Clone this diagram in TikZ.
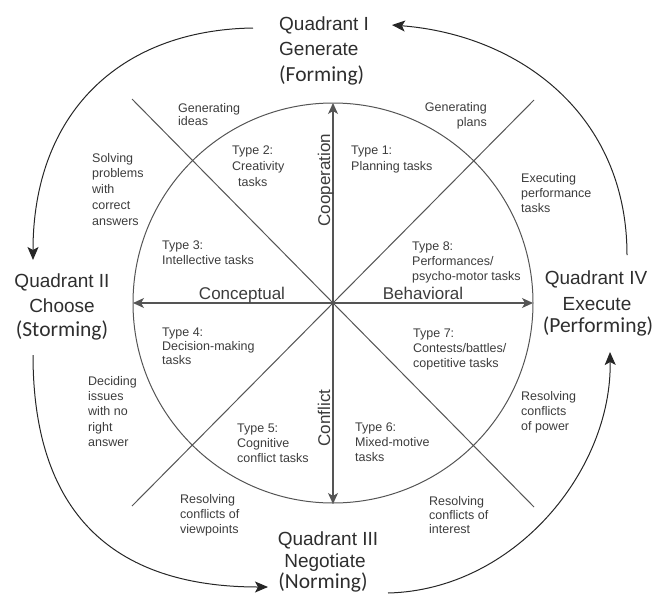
\documentclass[tikz,border=0pt]{standalone}
\usepackage{fontspec}
\setmainfont{Liberation Sans}
\newfontfamily\calib{Carlito}
\usetikzlibrary{arrows.meta}
\definecolor{linegray}{HTML}{555555}
\definecolor{txtgray}{HTML}{3C3C3C}
\definecolor{qgray}{HTML}{2E2E2E}
\begin{document}
\begin{tikzpicture}[x=1pt,y=-1pt,
  lsp/.style={font=\fontsize{12.5}{#1}\selectfont},
  small/.style={lsp=15, text=txtgray, inner sep=0pt, align=left, anchor=north west},
  quad/.style={font=\fontsize{19}{22}\selectfont, text=qgray, inner sep=0pt, anchor=base},
  quadp/.style={font=\calib\fontsize{21.5}{24}\selectfont, text=qgray, inner sep=0pt, anchor=base},
  axlabel/.style={font=\fontsize{17}{20}\selectfont, text=txtgray, inner sep=0pt, anchor=base},
  axis/.style={draw=linegray, line width=1.1pt, -{Stealth[length=11pt,width=10pt,inset=3pt]}},
  cyc/.style={draw=black!85, line width=1pt, -{Stealth[length=13pt,width=11pt,inset=3pt]}},
  thinline/.style={draw=linegray, line width=1pt}]
\useasboundingbox (0,0) rectangle (667,600);
% centre and geometry
\coordinate (O) at (333,303);
\coordinate (T) at (333,103);
\coordinate (B) at (333,504);
\coordinate (L) at (133,303);
\coordinate (R) at (533,303);
\coordinate (d1) at (132,99);
\coordinate (d2) at (534,507);
\coordinate (d3) at (534,100);
\coordinate (d4) at (132,506);
\draw[thinline] (O) circle[radius=200pt];
\draw[thinline] (d1) -- (d2);
\draw[thinline] (d3) -- (d4);
\draw[axis] (O) -- (T);
\draw[axis] (O) -- (B);
\draw[axis] (O) -- (L);
\draw[axis] (O) -- (R);
% outer cycle arcs
\coordinate (a1s) at (253,28);
\coordinate (a1e) at (33,260);
\coordinate (a2s) at (33,355);
\coordinate (a2e) at (268,587);
\coordinate (a3s) at (388,593);
\coordinate (a3e) at (610,352);
\coordinate (a4s) at (627,255);
\coordinate (a4e) at (392,25);
\draw[cyc] (a1s) .. controls (118,30) and (33,115) .. (a1e);
\draw[cyc] (a2s) .. controls (33,510) and (110,587) .. (a2e);
\draw[cyc] (a3s) .. controls (515,590) and (612,470) .. (a3e);
\draw[cyc] (a4s) .. controls (627,115) and (520,35) .. (a4e);
% quadrant labels
\node[quad, anchor=base west] (q1a) at (279,30) {Quadrant I};
\node[quad, anchor=base west] (q1b) at (279,55) {Generate};
\node[quadp, anchor=base west] (q1c) at (279,81) {(Forming)};
\node[quad] (q2a) at (62,287) {Quadrant II};
\node[quad] (q2b) at (62,312) {Choose};
\node[quadp] (q2c) at (62,336) {(Storming)};
\node[quad] (q3a) at (328,545) {Quadrant III};
\node[quad] (q3b) at (325,567) {Negotiate};
\node[quadp] (q3c) at (323,588) {(Norming)};
\node[quad] (q4a) at (596,284) {Quadrant IV};
\node[quad] (q4b) at (597,310) {Execute};
\node[quadp] (q4c) at (598,332) {(Performing)};
% axis labels
\node[axlabel, rotate=90] (coop) at (330,180) {Cooperation};
\node[axlabel, rotate=90] (confl) at (330,418) {Conflict};
\node[axlabel] (concept) at (242,299) {Conceptual};
\node[axlabel] (behav) at (423,299) {Behavioral};
% sector texts
\node[small, lsp=13.5] (genideas) at (178,103) {Generating\\ideas};
\node[small, lsp=15.7] (solving) at (92,153) {Solving\\problems\\with\\correct\\answers};
\node[small, lsp=16] (type2) at (232,146) {Type 2:\\Creativity\\\hspace*{6pt}tasks};
\node[small] (type3) at (162,241) {Type 3:\\Intellective tasks};
\node[small, align=right, anchor=north east] (genplans) at (487,102) {Generating\\plans};
\node[small, lsp=16] (type1) at (351,146) {Type 1:\\Planning tasks};
\node[small] (exec) at (521,173) {Executing\\performance\\tasks};
\node[small] (type8) at (412,242) {Type 8:\\Performances/\\psycho-motor tasks};
\node[small, lsp=14] (type4) at (162,328) {Type 4:\\Decision-making\\tasks};
\node[small, lsp=15.3] (deciding) at (88,376) {Deciding\\issues\\with no\\right\\answer};
\node[small] (type5) at (237,424) {Type 5:\\Cognitive\\conflict tasks};
\node[small] (type7) at (413,329) {Type 7:\\Contests/battles/\\copetitive tasks};
\node[small] (power) at (521,391) {Resolving\\conflicts\\of power};
\node[small] (type6) at (355,423) {Type 6:\\Mixed-motive\\tasks};
\node[small] (viewp) at (180,494) {Resolving\\conflicts of\\viewpoints};
\node[small, lsp=14] (interest) at (429,496) {Resolving\\conflicts of\\interest};
\end{tikzpicture}
\end{document}
